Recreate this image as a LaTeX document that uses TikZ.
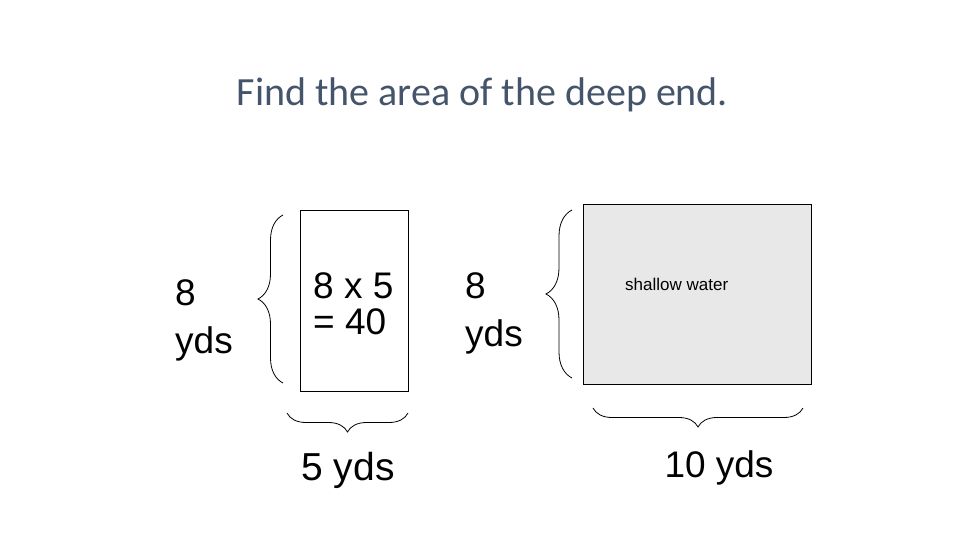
\documentclass[tikz,border=0pt]{standalone}
\usepackage{fontspec}
\setmainfont{Liberation Sans}
\newfontfamily\titlefont{Carlito}
\usetikzlibrary{positioning, decorations.pathreplacing}
\definecolor{titlegrey}{HTML}{44546A}
\definecolor{shallowgrey}{HTML}{E8E8E8}

\begin{document}
\begin{tikzpicture}[x=1pt,y=-1pt,
    every node/.style={inner sep=0pt, align=left},
    bigtext/.style={font=\fontsize{37}{48}\selectfont},
    pool/.style={draw, line width=1pt},
    curly/.style={decorate, decoration={brace, amplitude=#1}, line width=0.8pt}]
    \useasboundingbox (0,0) rectangle (960,540);

    \node [anchor=base, font=\titlefont\fontsize{40}{48}\selectfont, text=titlegrey] (title) at (482.5,106) {Find the area of the deep end.};

    % deep end
    \node [pool, minimum width=108pt, minimum height=181pt] (deepend) at (354,300.5) {};
    \node [bigtext, anchor=north west, font=\fontsize{37}{36}\selectfont] (product) at (313,272) {8 x 5\\= 40};
    \node [bigtext, anchor=north west] (deeplength) at (175,279) {8\\yds};
    \node [bigtext, anchor=base, font=\fontsize{39}{48}\selectfont] (deepwidth) at (348,480) {5 yds};
    \coordinate (dl1) at (283,383);
    \coordinate (dl2) at (283,215);
    \coordinate (dw1) at (408,413);
    \coordinate (dw2) at (287,413);
    \draw [curly=25pt] (dl1) -- (dl2);
    \draw [curly=19pt] (dw1) -- (dw2);

    % shallow end
    \node [pool, fill=shallowgrey, minimum width=228pt, minimum height=180pt] (shallowend) at (697,294) {};
    \node [anchor=base west, font=\fontsize{17}{20}\selectfont] (shallowlabel) at (625,290) {shallow water};
    \node [bigtext, anchor=north west] (shallowlength) at (465,272) {8\\yds};
    \node [bigtext, anchor=base] (shallowwidth) at (719,477) {10 yds};
    \coordinate (sl1) at (572,378);
    \coordinate (sl2) at (572,210);
    \coordinate (sw1) at (803,408);
    \coordinate (sw2) at (593,408);
    \draw [curly=26pt] (sl1) -- (sl2);
    \draw [curly=19pt] (sw1) -- (sw2);
\end{tikzpicture}
\end{document}
